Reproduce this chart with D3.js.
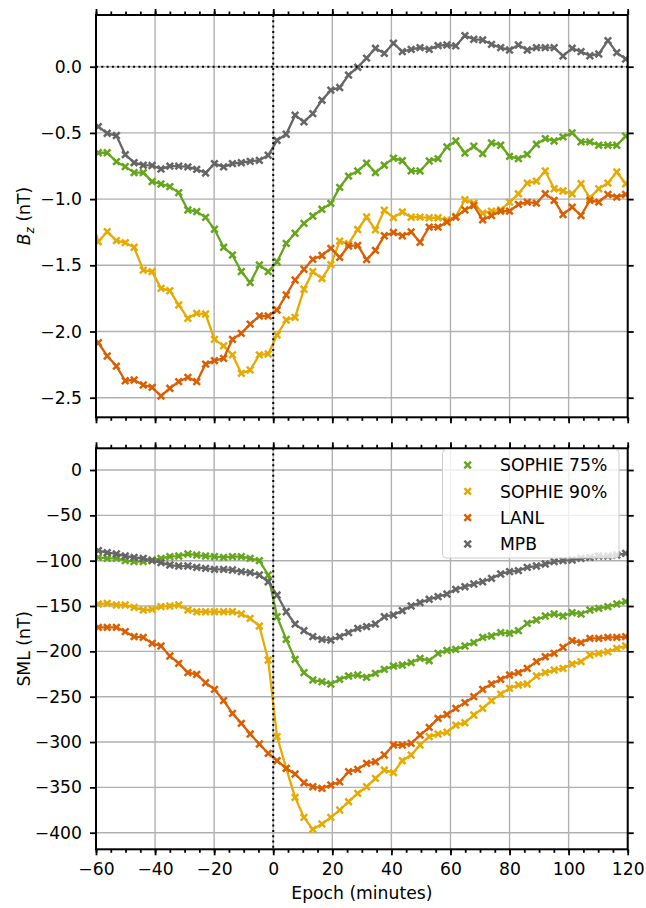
<!DOCTYPE html>
<html>
<head>
<meta charset="utf-8">
<script src="https://cdn.jsdelivr.net/npm/d3@7"></script>
<style>
	body { margin: 0; background: #fff; }
	text { font-family: "DejaVu Sans", sans-serif; fill: #000; }
</style>
</head>
<body>
<svg id="chart" width="646" height="908"></svg>
<script>
// epoch of each 3 minute bin, first and last lie just outside the axes and get clipped
const epochs = [-62.2, -59.2, -56.2, -53.1, -50.1, -47.1, -44.0, -41.0, -38.0, -35.0,
	-32.0, -28.9, -25.9, -22.9, -19.9, -16.8, -13.8, -10.8, -7.8, -4.7,
	-1.7, 1.3, 4.4, 7.4, 10.4, 13.4, 16.5, 19.5, 22.5, 25.5,
	28.6, 31.6, 34.6, 37.6, 40.7, 43.7, 46.7, 49.7, 52.8, 55.8,
	58.8, 61.8, 64.9, 67.9, 70.9, 73.9, 77.0, 80.0, 83.0, 86.0,
	89.1, 92.1, 95.1, 98.1, 101.2, 104.2, 107.2, 110.2, 113.3, 116.3,
	119.3, 122.3];

const sophie75Bz = [-0.63, -0.65, -0.65, -0.717, -0.755, -0.80, -0.80, -0.868, -0.886, -0.906,
	-0.951, -1.082, -1.095, -1.138, -1.228, -1.364, -1.422, -1.548, -1.631, -1.498,
	-1.548, -1.473, -1.334, -1.258, -1.183, -1.128, -1.077, -1.032, -0.911, -0.826,
	-0.788, -0.728, -0.80, -0.744, -0.69, -0.71, -0.787, -0.788, -0.712, -0.694,
	-0.606, -0.561, -0.652, -0.601, -0.657, -0.576, -0.593, -0.677, -0.694, -0.662,
	-0.586, -0.543, -0.561, -0.530, -0.50, -0.568, -0.568, -0.593, -0.593, -0.593,
	-0.525, -0.51];
const sophie90Bz = [-1.10, -1.322, -1.246, -1.314, -1.329, -1.364, -1.536, -1.548, -1.674, -1.692,
	-1.80, -1.901, -1.863, -1.868, -2.059, -2.109, -2.177, -2.316, -2.291, -2.177,
	-2.17, -2.026, -1.913, -1.893, -1.681, -1.548, -1.60, -1.495, -1.318, -1.336,
	-1.23, -1.135, -1.232, -1.084, -1.14, -1.097, -1.137, -1.136, -1.141, -1.141,
	-1.157, -1.131, -1.005, -1.03, -1.106, -1.091, -1.081, -1.023, -0.96, -0.879,
	-0.864, -0.788, -0.922, -0.939, -0.96, -0.884, -0.99, -0.922, -0.879, -0.795,
	-0.884, -0.90];
const lanlBz = [-2.0, -2.085, -2.185, -2.261, -2.372, -2.366, -2.404, -2.422, -2.487, -2.429,
	-2.379, -2.346, -2.379, -2.246, -2.22, -2.203, -2.059, -2.014, -1.944, -1.883,
	-1.883, -1.838, -1.724, -1.611, -1.53, -1.455, -1.426, -1.372, -1.44, -1.354,
	-1.35, -1.457, -1.387, -1.277, -1.252, -1.277, -1.248, -1.326, -1.212, -1.212,
	-1.174, -1.136, -1.081, -1.048, -1.157, -1.124, -1.091, -1.091, -1.04, -1.023,
	-1.03, -0.96, -1.01, -1.116, -1.061, -1.124, -1.01, -1.023, -0.965, -0.985,
	-0.965, -0.96];
const mpbBz = [-0.43, -0.453, -0.503, -0.52, -0.664, -0.725, -0.744, -0.746, -0.773, -0.751,
	-0.751, -0.757, -0.775, -0.803, -0.732, -0.757, -0.732, -0.725, -0.715, -0.707,
	-0.669, -0.556, -0.51, -0.366, -0.417, -0.354, -0.253, -0.177, -0.157, -0.063,
	-0.004, 0.065, 0.139, 0.101, 0.177, 0.114, 0.131, 0.144, 0.131, 0.159,
	0.164, 0.157, 0.235, 0.207, 0.202, 0.169, 0.144, 0.126, 0.164, 0.126,
	0.144, 0.144, 0.144, 0.081, 0.139, 0.114, 0.083, 0.096, 0.197, 0.106,
	0.058, 0.05];

const sophie75Sml = [-96, -96.3, -97.4, -97.4, -100, -101.1, -101.1, -99.3, -97.4, -95.6,
	-94.9, -92.6, -93.8, -94.9, -95.6, -96.3, -95.6, -95.6, -97.4, -100,
	-115.8, -161.8, -186.8, -208.8, -223.5, -231.6, -233.5, -236, -230.9, -227.2,
	-226.1, -228.7, -224.3, -219.9, -216.2, -215.1, -212.5, -207.7, -210.3, -202.2,
	-198.9, -197.8, -194.1, -190.4, -184.6, -183.1, -179.4, -180.1, -177.2, -169.1,
	-165.4, -161, -158.8, -161, -157.4, -158.8, -154.4, -152.6, -150.7, -147.8,
	-145.2, -144];
const sophie90Sml = [-148, -147.8, -147.1, -148.9, -148.9, -151.5, -154.4, -153.7, -150.7, -150,
	-148.9, -154.4, -156.3, -156.3, -156.3, -156.3, -156.3, -158.8, -163.6, -172.1,
	-209.6, -294.1, -329, -361, -383.1, -396.3, -390.4, -383.1, -375, -365.8,
	-356.6, -349.3, -340.1, -330.9, -333.8, -320.6, -314.3, -303.3, -294.1, -291.2,
	-289.2, -281.3, -278.7, -270.2, -262.9, -254.4, -247.1, -240.8, -237.1, -236,
	-227.2, -223.5, -220.6, -218.8, -214, -211.4, -204, -202.2, -200.4, -196.7,
	-194.1, -193];
const lanlSml = [-173.5, -173.5, -173.5, -173.5, -178.3, -183.8, -184.6, -191.2, -194.1, -205.1,
	-213.2, -223.5, -225.4, -234.6, -241.9, -254.4, -268.4, -279.4, -291.2, -302.2,
	-312.5, -320.6, -329, -335.3, -344.9, -349.3, -351.1, -347.4, -343.8, -332.7,
	-330.1, -323.5, -321.7, -314.3, -303.3, -303.3, -301.5, -292.3, -283.8, -273.9,
	-269.6, -262.9, -256.6, -250, -241.9, -236, -230.9, -226.1, -223.5, -218.8,
	-211.4, -205.9, -202.2, -195.6, -188.2, -190.4, -185.7, -185.7, -184.6, -184.6,
	-183.8, -183.5];
const mpbSml = [-88, -89, -91.2, -92.6, -94.9, -96.3, -97.4, -100, -102.2, -104.8,
	-105.9, -105.9, -107.4, -108.5, -109.6, -109.6, -110.3, -112.1, -113.2, -115.8,
	-123.2, -137.9, -156.3, -169.9, -177.2, -183.8, -186.8, -187.5, -183.8, -179.4,
	-174.6, -172.8, -169.9, -161.8, -159.9, -155.1, -150, -146.3, -142.6, -139.7,
	-136.8, -131.6, -128.7, -125.7, -123.2, -119.5, -114.7, -112.1, -111, -107.4,
	-105.9, -103.7, -101.1, -100, -99.3, -97.4, -96.3, -94.9, -94.9, -93.8,
	-91.9, -91.5];

const seriesNames = ["SOPHIE 75%", "SOPHIE 90%", "LANL", "MPB"];
const seriesColors = ["#66a61e", "#e6ab02", "#d95f02", "#666666"];
const epochTicks = [-60, -40, -20, 0, 20, 40, 60, 80, 100, 120];
const epochMinorTicks = d3.range(-60, 121, 5);
const bzTicks = [0, -0.5, -1.0, -1.5, -2.0, -2.5];
const smlTicks = [0, -50, -100, -150, -200, -250, -300, -350, -400];

const FONT = 17.2;
const LEFT = 96, RIGHT = 627.7;

let svg = d3.select("#chart");
svg.append("rect").attr("width", 646).attr("height", 908).attr("fill", "#fff");

let x = d3.scaleLinear().domain([-60, 120]).range([LEFT, RIGHT]);

function markerPath(s)
{
	return "M" + (-s) + "," + (-s) + "L" + s + "," + s + "M" + (-s) + "," + s + "L" + s + "," + (-s);
}

function drawPanel(id, top, bottom, yDomain, yTicks, yFormat, seriesValues, zeroLine, xLabels)
{
	let y = d3.scaleLinear().domain(yDomain).range([bottom, top]);
	let g = svg.append("g");

	svg.append("clipPath").attr("id", id).append("rect")
		.attr("x", LEFT).attr("y", top).attr("width", RIGHT - LEFT).attr("height", bottom - top);

	// grid
	g.append("g").selectAll("line").data(epochTicks).enter().append("line")
		.attr("x1", d => x(d)).attr("x2", d => x(d)).attr("y1", top).attr("y2", bottom)
		.attr("stroke", "#b0b0b0").attr("stroke-width", 1.4);
	g.append("g").selectAll("line").data(yTicks).enter().append("line")
		.attr("x1", LEFT).attr("x2", RIGHT).attr("y1", d => y(d)).attr("y2", d => y(d))
		.attr("stroke", "#b0b0b0").attr("stroke-width", 1.4);

	let plot = g.append("g").attr("clip-path", "url(#" + id + ")");

	let line = d3.line().x((d, i) => x(epochs[i])).y(d => y(d));

	seriesValues.forEach(function(values, k) {
		plot.append("path").datum(values).attr("d", line)
			.attr("fill", "none").attr("stroke", seriesColors[k]).attr("stroke-width", 2.3)
			.attr("stroke-linejoin", "round");
		plot.append("g").selectAll("path").data(values).enter().append("path")
			.attr("transform", (d, i) => "translate(" + x(epochs[i]) + "," + y(d) + ")")
			.attr("d", markerPath(3.3))
			.attr("stroke", seriesColors[k]).attr("stroke-width", 2.5).attr("fill", "none");
	});

	// dotted reference lines
	plot.append("line").attr("x1", x(0)).attr("x2", x(0)).attr("y1", top).attr("y2", bottom)
		.attr("stroke", "#000").attr("stroke-width", 2).attr("stroke-dasharray", "2,3.3");
	if (zeroLine)
	{
		plot.append("line").attr("x1", LEFT).attr("x2", RIGHT).attr("y1", y(0)).attr("y2", y(0))
			.attr("stroke", "#000").attr("stroke-width", 2).attr("stroke-dasharray", "2,3.3");
	}

	// ticks
	let leftAxis = g.append("g").attr("transform", "translate(" + LEFT + ",0)")
		.call(d3.axisLeft(y).tickValues(yTicks).tickFormat(d3.format(yFormat)).tickSize(6).tickPadding(8).tickSizeOuter(0));
	let rightAxis = g.append("g").attr("transform", "translate(" + RIGHT + ",0)")
		.call(d3.axisRight(y).tickValues(yTicks).tickFormat("").tickSize(6).tickSizeOuter(0));

	let topAxis = g.append("g").attr("transform", "translate(0," + top + ")")
		.call(d3.axisTop(x).tickValues(epochTicks).tickFormat("").tickSize(6).tickSizeOuter(0));
	let topMinor = g.append("g").attr("transform", "translate(0," + top + ")")
		.call(d3.axisTop(x).tickValues(epochMinorTicks).tickFormat("").tickSize(3.5).tickSizeOuter(0));
	let bottomAxis = g.append("g").attr("transform", "translate(0," + bottom + ")")
		.call(d3.axisBottom(x).tickValues(epochTicks).tickFormat(xLabels ? d3.format("d") : "").tickSize(6).tickPadding(7).tickSizeOuter(0));
	let bottomMinor = g.append("g").attr("transform", "translate(0," + bottom + ")")
		.call(d3.axisBottom(x).tickValues(epochMinorTicks).tickFormat("").tickSize(3.5).tickSizeOuter(0));

	[leftAxis, rightAxis, topAxis, topMinor, bottomAxis, bottomMinor].forEach(function(a) {
		a.select(".domain").remove();
		a.selectAll(".tick line").attr("stroke", "#000").attr("stroke-width", 1.8);
		a.selectAll("text").attr("font-size", FONT).attr("font-family", "DejaVu Sans").attr("fill", "#000");
	});

	// spines
	g.append("rect").attr("x", LEFT).attr("y", top).attr("width", RIGHT - LEFT).attr("height", bottom - top)
		.attr("fill", "none").attr("stroke", "#000").attr("stroke-width", 2);

	return y;
}

drawPanel("clipTop", 15, 417.3, [-2.648, 0.3905], bzTicks, ".1f",
	[sophie75Bz, sophie90Bz, lanlBz, mpbBz], true, false);
drawPanel("clipBottom", 448.3, 849.3, [-418.3, 23.93], smlTicks, "d",
	[sophie75Sml, sophie90Sml, lanlSml, mpbSml], false, true);

// axis labels
let bzLabel = svg.append("text").attr("transform", "translate(30,216) rotate(-90)")
	.attr("text-anchor", "middle").attr("font-size", FONT);
bzLabel.append("tspan").attr("font-style", "italic").text("B");
bzLabel.append("tspan").attr("font-style", "italic").attr("font-size", FONT * 0.7).attr("dy", 3.5).text("z");
bzLabel.append("tspan").attr("dy", -3.5).text(" (nT)");

svg.append("text").attr("transform", "translate(30,648.8) rotate(-90)")
	.attr("text-anchor", "middle").attr("font-size", FONT).text("SML (nT)");

svg.append("text").attr("x", (LEFT + RIGHT) / 2).attr("y", 899)
	.attr("text-anchor", "middle").attr("font-size", FONT).text("Epoch (minutes)");

// legend
let legend = svg.append("g");
legend.append("rect").attr("x", 442.5).attr("y", 449.5).attr("width", 176.5).attr("height", 108.5)
	.attr("rx", 4).attr("fill", "#fff").attr("fill-opacity", 0.8)
	.attr("stroke", "#cccccc").attr("stroke-width", 1);
let rowY = d3.scalePoint().domain(seriesNames).range([465, 544]);
seriesNames.forEach(function(name, k) {
	legend.append("path").attr("transform", "translate(467.7," + rowY(name) + ")")
		.attr("d", markerPath(3.3)).attr("stroke", seriesColors[k]).attr("stroke-width", 2.5).attr("fill", "none");
	legend.append("text").attr("x", 500).attr("y", rowY(name)).attr("dy", "0.36em")
		.attr("font-size", FONT).text(name);
});
</script>
</body>
</html>
